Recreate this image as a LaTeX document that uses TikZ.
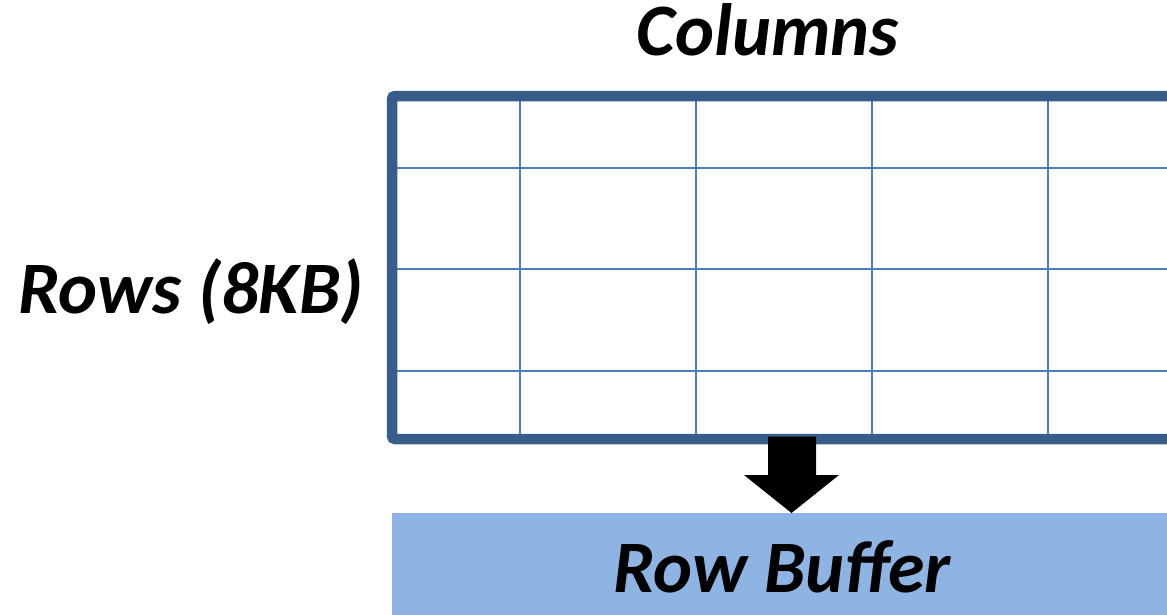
\documentclass[tikz,border=0pt]{standalone}
\usepackage{fontspec}
\setmainfont{Carlito}
\definecolor{borderblue}{HTML}{385D8A}
\definecolor{gridblue}{HTML}{4A7EBB}
\definecolor{bufblue}{HTML}{8EB4E3}
\tikzset{
  lbl/.style={font=\fontsize{74}{80}\selectfont\bfseries\itshape, inner sep=0pt, anchor=base},
  gridline/.style={draw=gridblue, line width=2pt},
  frame/.style={draw=borderblue, line width=10.5pt, rounded corners=3pt},
}
\begin{document}
\begin{tikzpicture}[x=1pt,y=-1pt]
\useasboundingbox (0,0) rectangle (1167,614);
\clip (0,0) rectangle (1167,614);
% grid lines
\foreach \x in {520,696,872,1048} \draw[gridline] (\x,96) -- (\x,439);
\foreach \y in {168,269,371} \draw[gridline] (392,\y) -- (1180,\y);
% frame
\draw[frame] (1190,96) -- (392,96) -- (392,439) -- (1190,439);
% row buffer
\node[fill=bufblue, minimum width=800pt, minimum height=102pt, anchor=north west, inner sep=0pt] (buf) at (392,513) {};
% arrow
\coordinate (tip) at (791.5,513);
\fill[black] (768,436.5) -- (816,436.5) -- (816,475) -- (839,475) -- (tip) -- (744,475) -- (768,475) -- cycle;
% labels
\node[lbl] (cols) at (768,55) {Columns};
\node[lbl] (rows) at (191,313) {Rows (8KB)};
\node[lbl] (rb) at (782,592) {Row Buffer};
\end{tikzpicture}
\end{document}
